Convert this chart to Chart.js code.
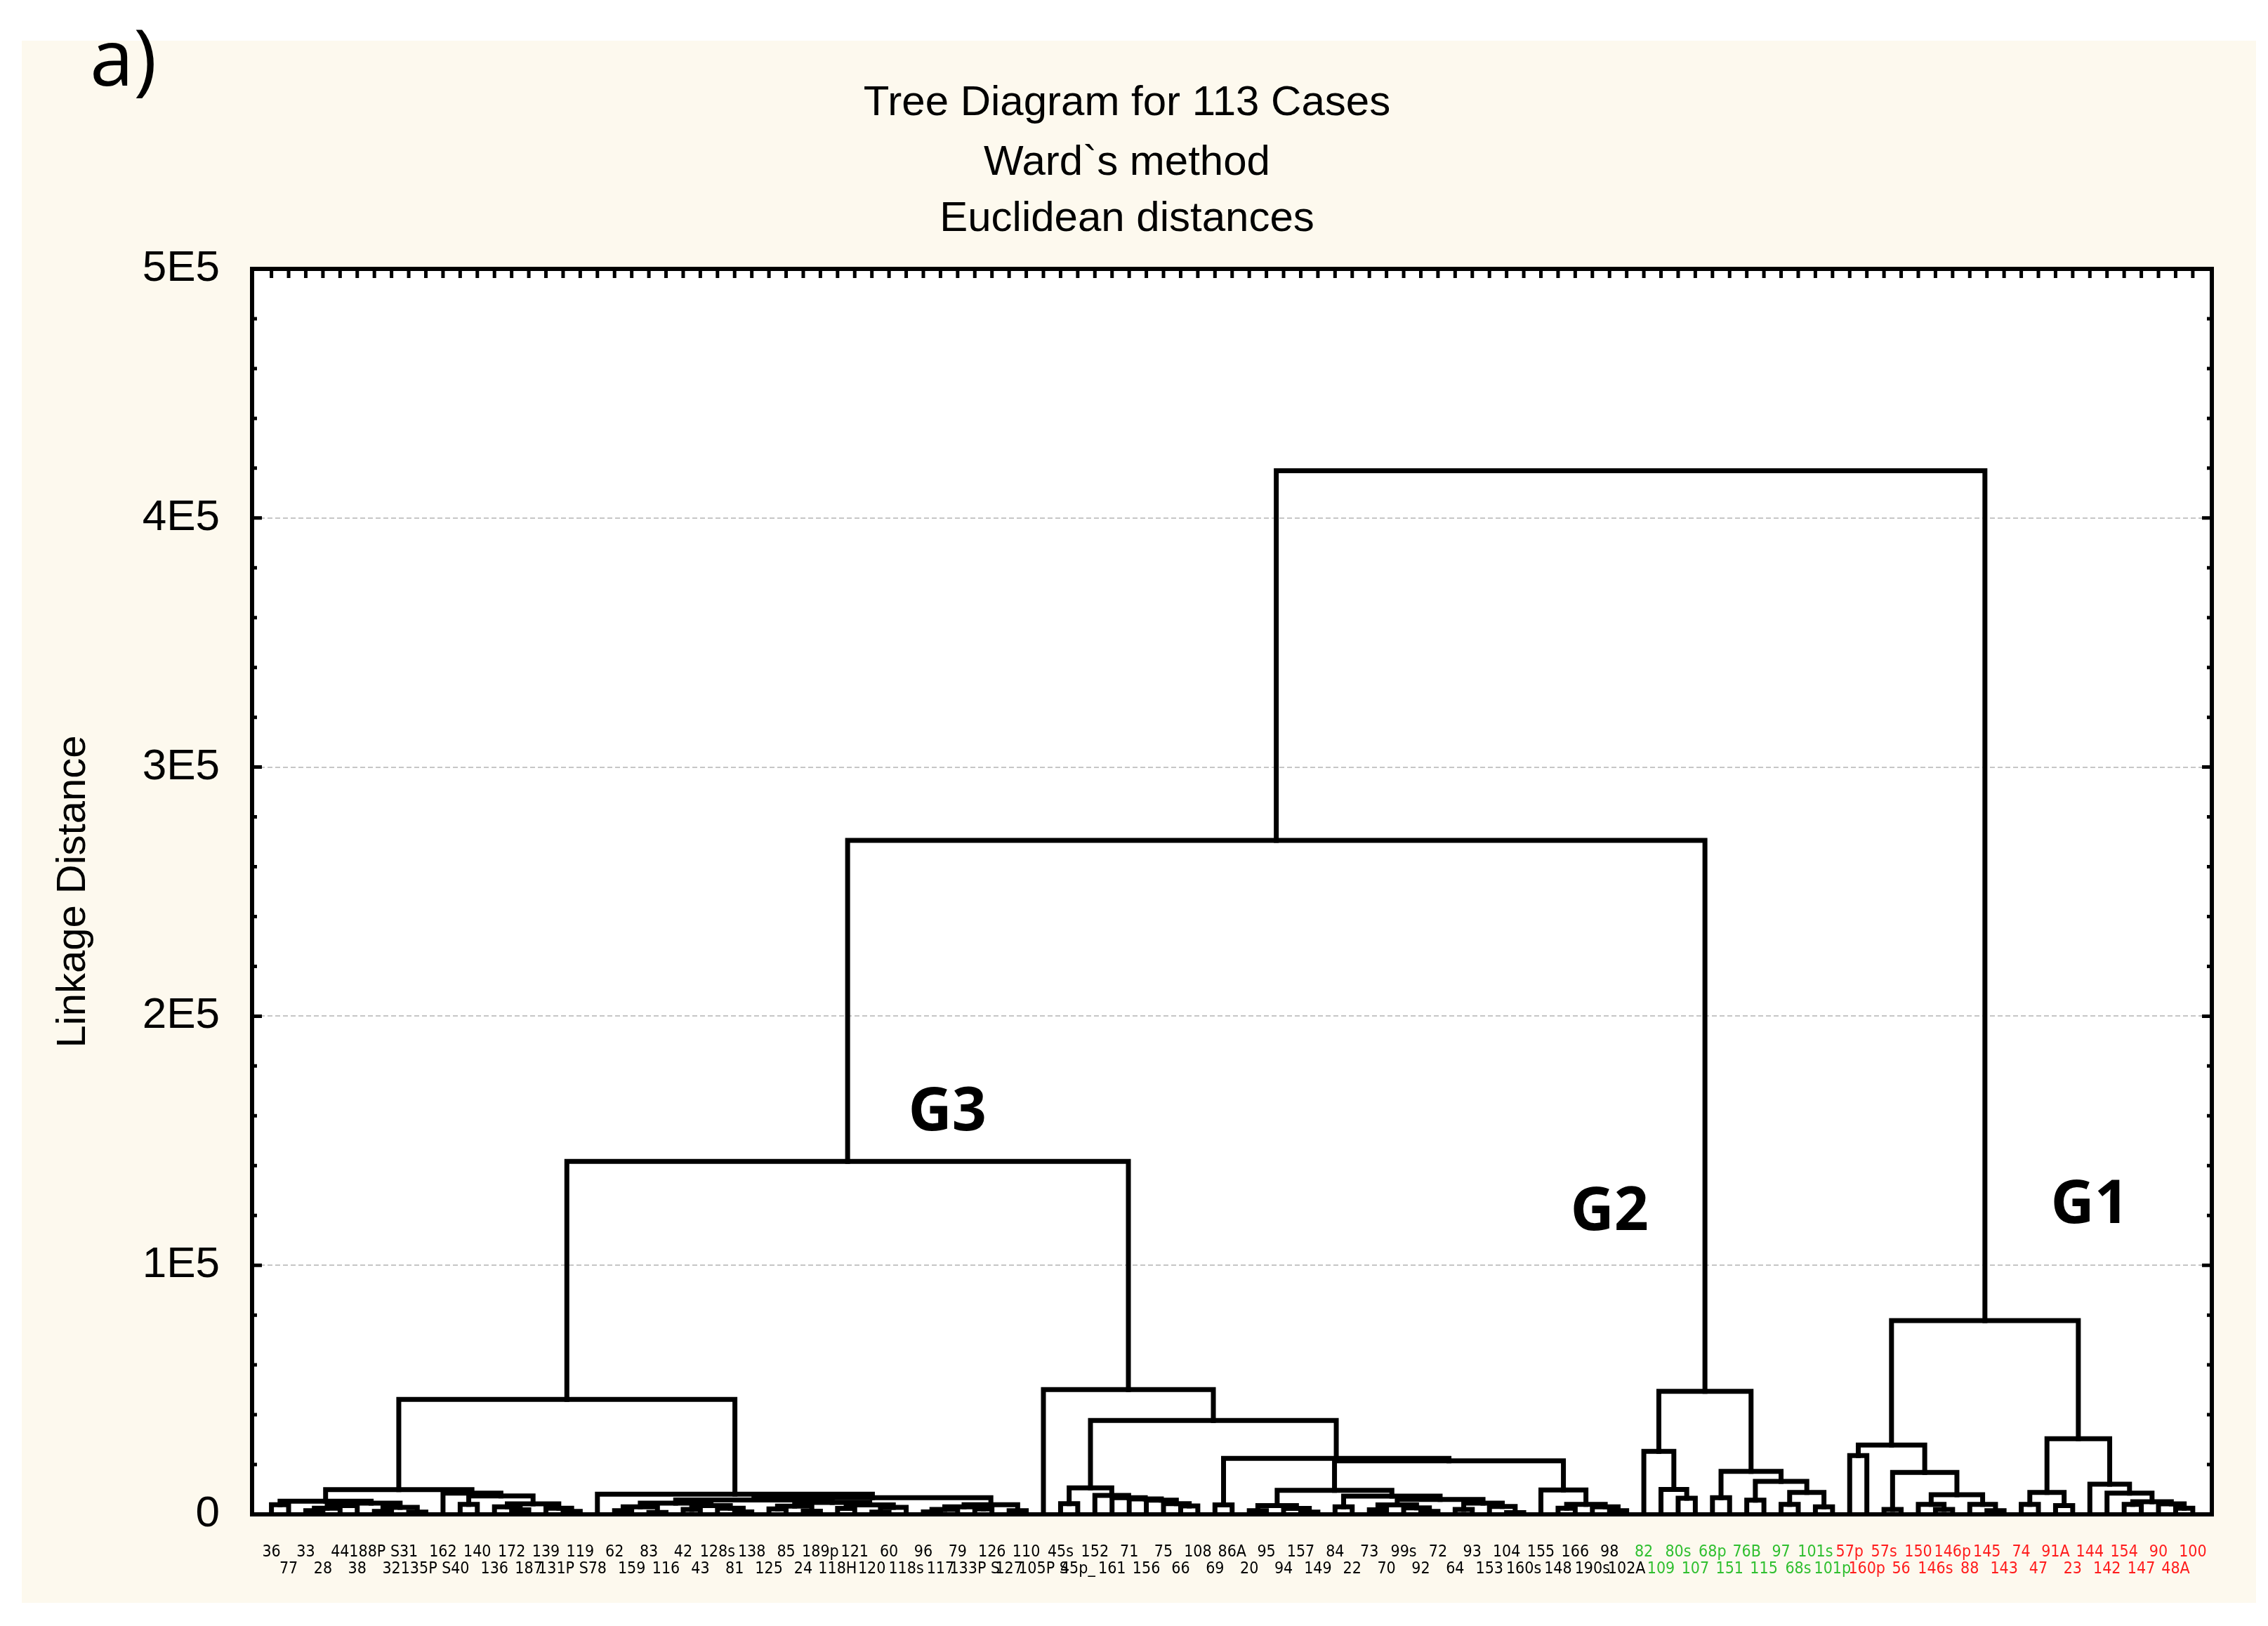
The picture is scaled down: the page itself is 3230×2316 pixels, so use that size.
<!DOCTYPE html>
<html>
<head>
<meta charset="utf-8">
<title>Tree Diagram for 113 Cases</title>
<script src="https://cdn.jsdelivr.net/npm/chart.js@4.4.1/dist/chart.umd.min.js"></script>
<style>
  html, body { margin: 0; padding: 0; background: #ffffff; }
  canvas { display: block; }
</style>
</head>
<body>
<canvas id="treeChart" width="3230" height="2316"></canvas>
<script>
// case labels, upper row (odd leaves) and lower row (even leaves), left to right
const topRowLabels = ['36', '33', '44', '188P S', '31', '162', '140', '172', '139', '119', '62', '83', '42', '128s',
    '138', '85', '189p', '121', '60', '96', '79', '126', '110', '45s', '152', '71', '75', '108', '86A', '95', '157',
    '84', '73', '99s', '72', '93', '104', '155', '166', '98', '82', '80s', '68p', '76B', '97', '101s', '57p', '57s',
    '150', '146p', '145', '74', '91A', '144', '154', '90', '100'];
const bottomRowLabels = ['77', '28', '38', '32', '135P S', '40', '136', '187', '131P S', '78', '159', '116', '43',
    '81', '125', '24', '118H', '120', '118s', '117', '133P S', '127', '105P S', '45p_', '161', '156', '66', '69',
    '20', '94', '149', '22', '70', '92', '64', '153', '160s', '148', '190s', '102A', '109', '107', '151', '115',
    '68s', '101p', '160p', '56', '146s', '88', '143', '47', '23', '142', '147', '48A'];

// linkage distance at which leaf i and leaf i+1 first end up in the same cluster
const gapHeights = [
    3900, 5260, 1500, 2500, 3500, 4500, 1200, 2800, 900, 9950,
    8540, 4000, 7420, 3000, 1800, 4200, 2500, 1200, 46130, 8080,
    1500, 3000, 800, 4500, 2000, 3500, 2500, 1000, 5800, 2200,
    3300, 1300, 4800, 2400, 3800, 900, 2800, 6670, 1000, 2000,
    3000, 2200, 3900, 1500, 141700, 50100, 4300, 10620, 7600, 6700,
    6200, 5700, 4300, 3400, 37670, 3800, 22450, 1500, 3500, 2400,
    900, 9670, 3000, 7300, 1800, 3800, 2600, 1200, 6000, 2000,
    4500, 3200, 700, 21500, 9780, 2500, 4000, 3000, 1500, 270600,
    25300, 10000, 6500, 49400, 6670, 17280, 5700, 13240, 4030, 8820,
    3000, 419000, 23600, 27800, 2000, 16820, 4030, 2000, 7890, 4000,
    1500, 77800, 4000, 8830, 3500, 30350, 12120, 8540, 4000, 5070,
    4200, 2500
];

// label colours by leaf range
const greenLeaves = [81, 92];
const redLeaves = [93, 113];

const yTicks = [0, 100000, 200000, 300000, 400000, 500000];
const yTickLabels = ['0', '1E5', '2E5', '3E5', '4E5', '5E5'];

const titleLines = ['Tree Diagram for 113 Cases', 'Ward`s method', 'Euclidean distances'];

const groupNames = ['G3', 'G2', 'G1'];
const groupX = [40.4, 79.0, 107.0];
const groupY = [161000, 121000, 124000];

const leafLabels = [];
for (let i = 0; i < topRowLabels.length; i++) {
    leafLabels.push(topRowLabels[i]);
    if (i < bottomRowLabels.length) leafLabels.push(bottomRowLabels[i]);
}

function leafColour(leaf) {
    if (leaf >= greenLeaves[0] && leaf <= greenLeaves[1]) return '#2fbf2f';
    if (leaf >= redLeaves[0] && leaf <= redLeaves[1]) return '#ff1c1c';
    return '#000000';
}

// rebuild the tree: the largest gap inside a run of leaves is where it splits
const links = [];
function buildTree(a, b) {
    if (a === b) return { x: a, y: 0 };
    let k = a;
    for (let i = a; i < b; i++) {
        if (gapHeights[i - 1] > gapHeights[k - 1]) k = i;
    }
    const h = gapHeights[k - 1];
    const left = buildTree(a, k);
    const right = buildTree(k + 1, b);
    links.push([
        { x: left.x, y: left.y },
        { x: left.x, y: h },
        { x: right.x, y: h },
        { x: right.x, y: right.y }
    ]);
    return { x: (left.x + right.x) / 2, y: h };
}
buildTree(1, leafLabels.length);

const paperPlugin = {
    id: 'paper',
    beforeDraw(chart) {
        const { ctx, chartArea } = chart;
        ctx.save();
        ctx.fillStyle = '#ffffff';
        ctx.fillRect(0, 0, chart.width, chart.height);
        ctx.fillStyle = '#fdf9ee';
        ctx.fillRect(31, 58, 3182, 2225);
        ctx.fillStyle = '#ffffff';
        ctx.fillRect(chartArea.left, chartArea.top, chartArea.right - chartArea.left, chartArea.bottom - chartArea.top);
        ctx.restore();
    }
};

const framePlugin = {
    id: 'frame',
    afterDraw(chart) {
        const { ctx, chartArea } = chart;
        const { left, right, top, bottom } = chartArea;
        const xs = chart.scales.x;
        const ys = chart.scales.y;
        ctx.save();
        ctx.strokeStyle = '#000000';
        ctx.lineWidth = 6;
        ctx.strokeRect(left, top, right - left, bottom - top);

        // inward ticks along the top edge, one per case
        ctx.lineWidth = 5;
        ctx.beginPath();
        for (let v = 1; v <= leafLabels.length; v++) {
            const px = xs.getPixelForValue(v);
            ctx.moveTo(px, top);
            ctx.lineTo(px, top + 13);
        }
        ctx.stroke();

        // inward ticks on the left and right edges
        ctx.lineWidth = 5;
        ctx.beginPath();
        for (let v = 20000; v < 500000; v += 20000) {
            const py = ys.getPixelForValue(v);
            const len = v % 100000 === 0 ? 14 : 7;
            ctx.moveTo(left, py);
            ctx.lineTo(left + len, py);
            ctx.moveTo(right, py);
            ctx.lineTo(right - len, py);
        }
        ctx.stroke();

        // title
        ctx.fillStyle = '#000000';
        ctx.textAlign = 'center';
        ctx.textBaseline = 'middle';
        ctx.font = '60px "Liberation Sans", Arial, sans-serif';
        const titleY = [147, 232, 312];
        titleLines.forEach((t, i) => ctx.fillText(t, 1605, titleY[i]));

        // panel letter
        ctx.textAlign = 'left';
        ctx.textBaseline = 'alphabetic';
        ctx.font = '112px "Open Sans", "Noto Sans", sans-serif';
        ctx.fillText('a)', 128, 122);

        // group names
        ctx.textAlign = 'center';
        ctx.textBaseline = 'middle';
        ctx.font = 'bold 86px "Open Sans", "Noto Sans", sans-serif';
        groupNames.forEach((g, i) => {
            ctx.fillText(g, xs.getPixelForValue(groupX[i]), ys.getPixelForValue(groupY[i]));
        });
        ctx.restore();
    }
};

const ctx = document.getElementById('treeChart');
new Chart(ctx, {
    type: 'scatter',
    data: {
        datasets: links.map(pts => ({
            data: pts,
            showLine: true,
            borderColor: '#000000',
            borderWidth: 7,
            borderJoinStyle: 'miter',
            borderCapStyle: 'square',
            pointRadius: 0,
            pointHoverRadius: 0,
            fill: false,
            tension: 0
        }))
    },
    options: {
        responsive: false,
        animation: false,
        devicePixelRatio: 1,
        layout: { padding: { top: 383, right: 80, bottom: 0, left: 0 } },
        plugins: {
            legend: { display: false },
            tooltip: { enabled: false }
        },
        scales: {
            x: {
                type: 'linear',
                min: -0.13,
                max: 114.11,
                afterBuildTicks: scale => {
                    scale.ticks = leafLabels.map((_, i) => ({ value: i + 1 }));
                },
                afterFit: scale => { scale.height = 159; },
                grid: { display: false },
                border: { display: false },
                ticks: {
                    autoSkip: false,
                    maxRotation: 0,
                    minRotation: 0,
                    padding: 34,
                    font: { family: '"Liberation Sans Narrow", "DejaVu Sans Condensed", "Liberation Sans", sans-serif', size: 23, lineHeight: 1.05 },
                    color: c => leafColour(c.tick.value),
                    callback: value => {
                        const lab = leafLabels[value - 1];
                        return value % 2 ? [lab, ''] : ['', lab];
                    }
                }
            },
            y: {
                min: 0,
                max: 500000,
                afterBuildTicks: scale => {
                    scale.ticks = yTicks.map(v => ({ value: v }));
                },
                afterFit: scale => { scale.width = 359; },
                grid: {
                    color: c => (c.tick && c.tick.value > 0 && c.tick.value < 500000) ? '#c6c6c6' : 'rgba(0,0,0,0)',
                    lineWidth: 2,
                    drawTicks: false
                },
                border: { display: false, dash: [7, 4] },
                ticks: {
                    padding: 46,
                    color: '#000000',
                    font: { family: '"Liberation Sans", Arial, sans-serif', size: 62 },
                    callback: value => yTickLabels[yTicks.indexOf(value)]
                },
                title: {
                    display: true,
                    text: 'Linkage Distance',
                    color: '#000000',
                    font: { family: '"Liberation Sans", Arial, sans-serif', size: 58 },
                    padding: { top: 70, bottom: 0 }
                }
            }
        }
    },
    plugins: [paperPlugin, framePlugin]
});
</script>
</body>
</html>
